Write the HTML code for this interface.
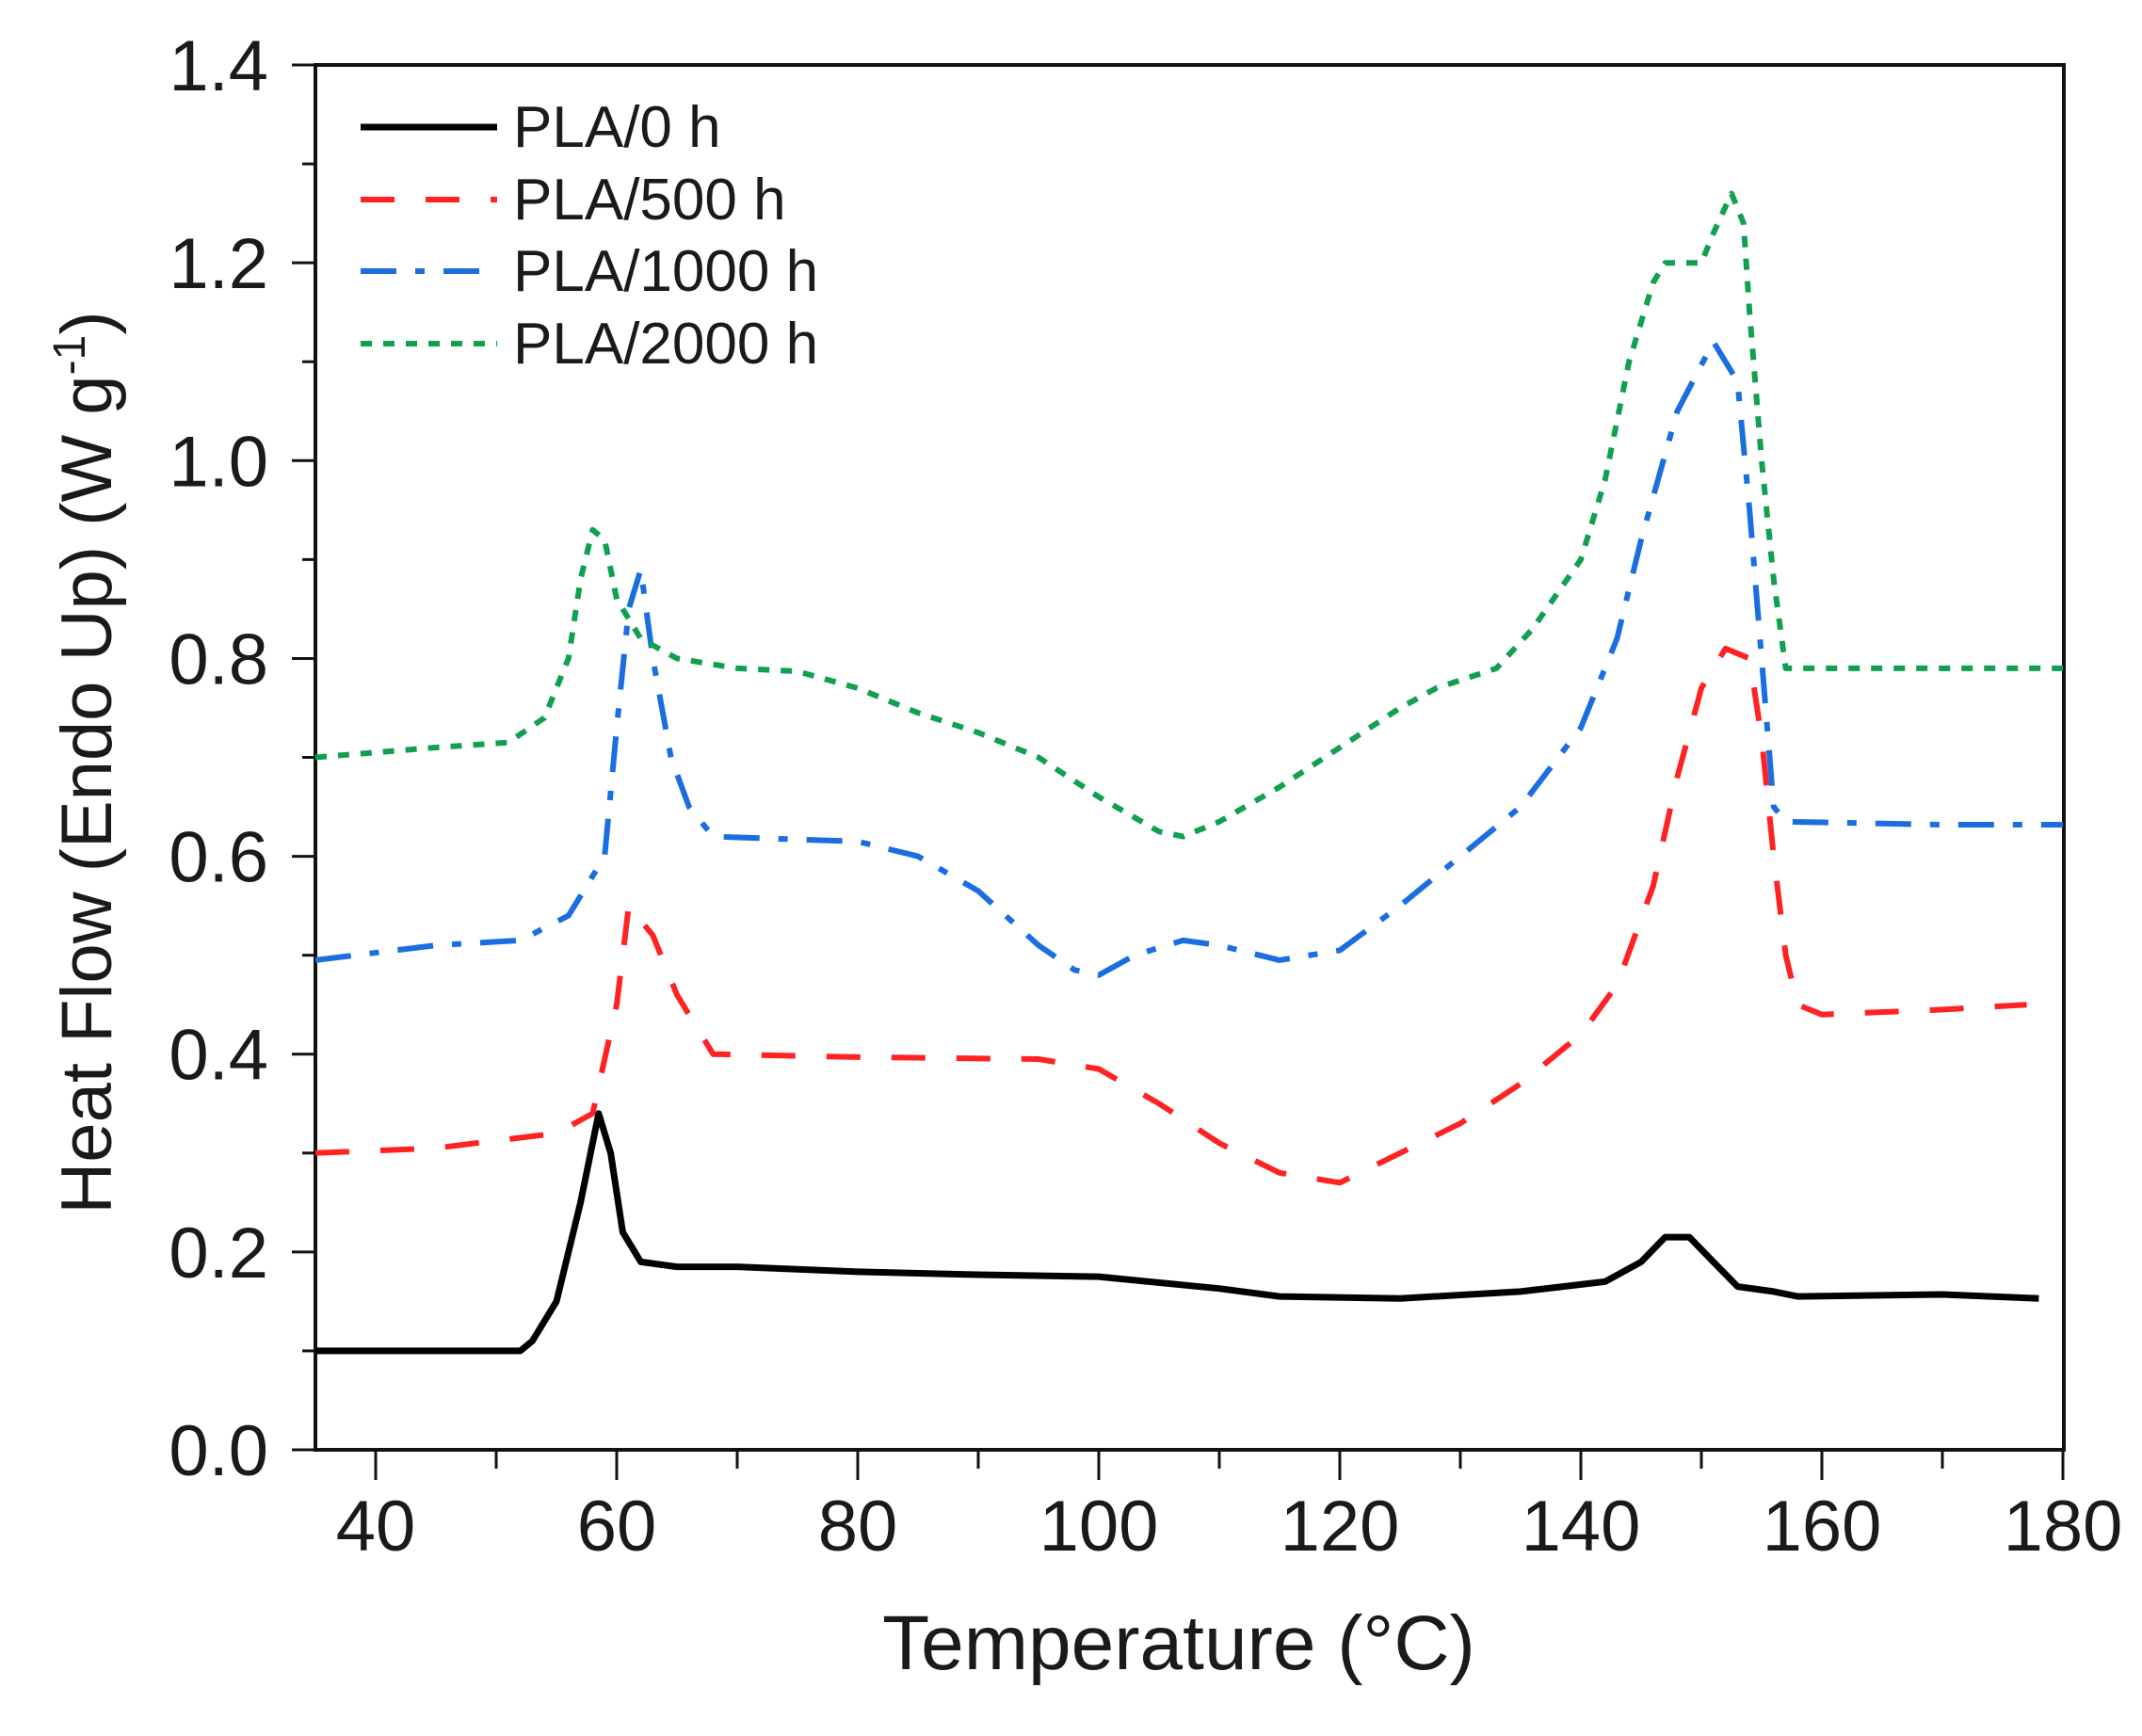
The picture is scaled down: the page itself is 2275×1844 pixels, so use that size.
<!DOCTYPE html>
<html><head><meta charset="utf-8"><style>
html,body{margin:0;padding:0;background:#fff;width:2275px;height:1844px;overflow:hidden}
svg text{font-family:"Liberation Sans",Arial,sans-serif;fill:#1a1a1a}
</style></head><body>
<svg id="s" width="2275" height="1844" xmlns="http://www.w3.org/2000/svg">
<g id="ax" stroke="#111" stroke-width="4" fill="none">
<rect x="335" y="69" width="1857" height="1471"/>
</g>
<g id="ticks" stroke="#111" stroke-width="3"></g>
<g id="labels" font-size="76"></g>
<g id="series" fill="none" stroke-linejoin="round"></g>
<text x="1252" y="1773" font-size="82" text-anchor="middle">Temperature (°C)</text>
<text transform="translate(118,810) rotate(-90)" font-size="76" text-anchor="middle">Heat Flow (Endo Up) (W g<tspan dy="-28" font-size="48">-1</tspan><tspan dy="28">)</tspan></text>
<g font-size="62">
<line x1="383" y1="135" x2="528" y2="135" stroke="#000" stroke-width="7"/>
<text x="545" y="156">PLA/0 h</text>
<line x1="383" y1="212" x2="528" y2="212" stroke="#f22" stroke-width="6" stroke-dasharray="36,33"/>
<text x="545" y="233">PLA/500 h</text>
<line x1="383" y1="288" x2="528" y2="288" stroke="#1a6ee0" stroke-width="6" stroke-dasharray="38,20,10,20"/>
<text x="545" y="309">PLA/1000 h</text>
<line x1="383" y1="365" x2="528" y2="365" stroke="#10a050" stroke-width="6" stroke-dasharray="12,12"/>
<text x="545" y="386">PLA/2000 h</text>
</g>
</svg>
<script>
var NS="http://www.w3.org/2000/svg";
function X(t){return 335+(t-35)*12.8}
function Y(v){return 1540-v*1050.7}
function el(p,n,a,txt){var e=document.createElementNS(NS,n);for(var k in a)e.setAttribute(k,a[k]);if(txt)e.textContent=txt;document.getElementById(p).appendChild(e);}
for(var i=0;i<=14;i++){var y=Y(i/10),L=(i%2==0)?25:14;el('ticks','line',{x1:335-L,y1:y,x2:335,y2:y});
 if(i%2==0)el('labels','text',{x:285,y:y+27,'text-anchor':'end'},(i/10).toFixed(1));}
for(var t=40;t<=180;t+=10){var x=X(t),L=(t%20==0)?32:20;el('ticks','line',{x1:x,y1:1540,x2:x,y2:1540+L});
 if(t%20==0)el('labels','text',{x:x,y:1647,'text-anchor':'middle'},String(t));}
var S=[
["#000",7,"none",[[35,.1],[52,.1],[53,.11],[55,.15],[57,.25],[58.5,.34],[59.5,.3],[60.5,.22],[62,.19],[65,.185],[70,.185],[80,.18],[90,.177],[100,.175],[110,.163],[115,.155],[125,.153],[135,.16],[142,.17],[145,.19],[147,.215],[149,.215],[151,.19],[153,.165],[156,.16],[158,.155],[170,.157],[178,.153]]],
["#f22",6,"36,33",[[35,.3],[45,.305],[55,.32],[58,.34],[60,.45],[61,.55],[63,.52],[65,.46],[68,.4],[80,.397],[95,.395],[100,.385],[105,.35],[110,.31],[115,.28],[120,.27],[125,.3],[130,.33],[135,.37],[140,.42],[143,.47],[146,.57],[148,.68],[150,.77],[152,.81],[154,.8],[155,.72],[156,.6],[157,.5],[158,.45],[160,.44],[170,.445],[177,.45]]],
["#1a6ee0",6,"38,20,10,20",[[35,.495],[45,.51],[52,.515],[56,.54],[59,.6],[60,.73],[61,.85],[62,.89],[63,.8],[64.5,.7],[66,.65],[68,.62],[80,.615],[85,.6],[90,.565],[95,.51],[98,.485],[100,.48],[103,.5],[107,.515],[110,.51],[115,.495],[120,.505],[125,.55],[130,.6],[135,.65],[140,.73],[143,.82],[145,.92],[148,1.05],[151,1.12],[153,1.08],[154,.95],[155,.8],[156,.65],[157,.635],[170,.632],[180,.632]]],
["#10a050",6,"12,12",[[35,.7],[45,.71],[51,.715],[54,.74],[56,.8],[57,.88],[58,.93],[59,.92],[60,.86],[62,.82],[65,.8],[70,.79],[75,.787],[80,.77],[85,.745],[90,.725],[95,.7],[100,.66],[105,.625],[107,.62],[110,.635],[115,.67],[120,.71],[125,.75],[128,.77],[133,.79],[136,.83],[140,.9],[142,.98],[144,1.1],[146,1.18],[147,1.2],[150,1.2],[151,1.23],[152.5,1.27],[153.5,1.24],[154,1.15],[155,1],[156,.88],[157,.79],[160,.79],[180,.79]]]
];
S.forEach(function(s){var d=s[3].map(function(p,i){return (i?"L":"M")+X(p[0]).toFixed(1)+","+Y(p[1]).toFixed(1)}).join("");
 var a={d:d,stroke:s[0],'stroke-width':s[1]};if(s[2]!="none")a['stroke-dasharray']=s[2];el('series','path',a);});
</script>
</body></html>
